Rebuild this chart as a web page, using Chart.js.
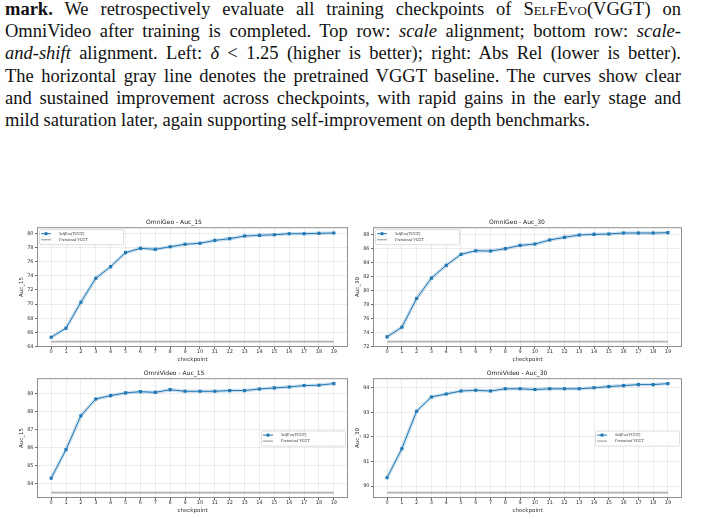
<!DOCTYPE html>
<html lang="en">
<head>
<meta charset="UTF-8">
<title>SelfEvo(VGGT) checkpoints</title>
<script src="https://cdn.jsdelivr.net/npm/chart.js"></script>
<style>
    body {
        margin: 0;
        background: #fff;
        width: 703px;
        height: 519px;
        overflow: hidden;
        position: relative;
    }
    .caption {
        position: absolute;
        left: 5px;
        top: -2px;
        width: 676px;
        font-family: 'Liberation Serif', serif;
        font-size: 18.5px;
        line-height: 22.2px;
        color: #111;
    }
    .caption div {
        text-align: justify;
        text-align-last: justify;
    }
    .caption div.last {
        text-align-last: left;
    }
    .sc { font-variant: small-caps; }
    canvas { position: absolute; }
</style>
</head>
<body>
<div class="caption">
    <div><b>mark.</b> We retrospectively evaluate all training checkpoints of <span class="sc">SelfEvo</span>(VGGT) on</div>
    <div>OmniVideo after training is completed. Top row: <i>scale</i> alignment; bottom row: <i>scale-</i></div>
    <div><i>and-shift</i> alignment. Left: <i>δ</i> &lt; 1.25 (higher is better); right: Abs Rel (lower is better).</div>
    <div>The horizontal gray line denotes the pretrained VGGT baseline. The curves show clear</div>
    <div>and sustained improvement across checkpoints, with rapid gains in the early stage and</div>
    <div class="last">mild saturation later, again supporting self-improvement on depth benchmarks.</div>
</div>

<canvas id="geo15" width="352" height="156" style="left:0px;top:210px"></canvas>
<canvas id="geo30" width="351" height="156" style="left:352px;top:210px"></canvas>
<canvas id="video15" width="352" height="159" style="left:0px;top:360px"></canvas>
<canvas id="video30" width="351" height="159" style="left:352px;top:360px"></canvas>

<script>
    // data
    const checkpoints = [0, 1, 2, 3, 4, 5, 6, 7, 8, 9, 10, 11, 12, 13, 14, 15, 16, 17, 18, 19];

    const geoAuc15 = [65.3, 66.6, 70.26, 73.65, 75.3, 77.27, 77.88, 77.74, 78.1, 78.45,
                      78.6, 79.0, 79.25, 79.62, 79.72, 79.8, 79.95, 79.95, 80.0, 80.05];
    const geoAuc30 = [73.39, 74.77, 78.88, 81.79, 83.61, 85.18, 85.71, 85.66, 86.0, 86.47,
                      86.66, 87.24, 87.62, 87.95, 88.05, 88.1, 88.24, 88.24, 88.24, 88.29];
    const videoAuc15 = [84.28, 85.88, 87.77, 88.70, 88.89, 89.04, 89.11, 89.07, 89.22, 89.13,
                        89.13, 89.13, 89.17, 89.17, 89.26, 89.32, 89.37, 89.45, 89.47, 89.56];
    const videoAuc30 = [90.34, 91.52, 93.04, 93.62, 93.74, 93.86, 93.89, 93.86, 93.95, 93.95,
                        93.92, 93.95, 93.95, 93.95, 93.99, 94.04, 94.08, 94.12, 94.12, 94.16];

    // pretrained VGGT baselines
    const baseGeo15 = 64.7;
    const baseGeo30 = 72.72;
    const baseVideo15 = 83.48;
    const baseVideo30 = 89.74;

    const ticksGeo15 = [64, 66, 68, 70, 72, 74, 76, 78, 80];
    const ticksGeo30 = [72, 74, 76, 78, 80, 82, 84, 86, 88];
    const ticksVideo15 = [84, 85, 86, 87, 88, 89];
    const ticksVideo30 = [90, 91, 92, 93, 94];

    const BLUE = '#1f77b4';
    const GRAY = '#b0b0b0';

    // frame + legend drawn inside the axes, matplotlib style
    const insideLegend = {
        id: 'insideLegend',
        afterDraw(chart, args, opts) {
            const ctx = chart.ctx;
            const a = chart.chartArea;
            ctx.save();
            ctx.strokeStyle = '#8f8f8f';
            ctx.lineWidth = 1;
            ctx.strokeRect(a.left + 0.5, a.top + 0.5, a.right - a.left - 1, a.bottom - a.top - 1);

            const w = 84, h = 15;
            let x, y;
            if (opts.pos === 'ul') {
                x = a.left + 2; y = a.top + 2;
            } else {
                x = a.right - w - 3; y = (a.top + a.bottom) / 2 - h / 2;
            }
            ctx.fillStyle = 'rgba(255,255,255,0.85)';
            ctx.strokeStyle = '#dddddd';
            ctx.beginPath();
            ctx.roundRect(x + 0.5, y + 0.5, w, h, 1.5);
            ctx.fill();
            ctx.stroke();

            const ds = chart.data.datasets;
            const rows = [ds[0], ds[2]];
            ctx.font = 'italic 4px "Liberation Serif"';
            ctx.textBaseline = 'middle';
            rows.forEach((d, i) => {
                const ry = y + 4.5 + i * 6;
                ctx.strokeStyle = d.borderColor;
                ctx.lineWidth = i === 0 ? 1 : 1.4;
                ctx.beginPath();
                ctx.moveTo(x + 2, ry);
                ctx.lineTo(x + 12, ry);
                ctx.stroke();
                if (i === 0) {
                    ctx.fillStyle = BLUE;
                    ctx.fillRect(x + 5.5, ry - 1.5, 3, 3);
                }
                ctx.fillStyle = '#333';
                ctx.fillText(d.label, x + opts.textX, ry);
            });
            ctx.restore();
        }
    };

    function makeChart(id, title, yLabel, values, base, yMin, yMax, yTicks, opts) {
        const pts = checkpoints.map((c, i) => ({x: c, y: values[i]}));
        const basePts = [{x: checkpoints[0], y: base}, {x: checkpoints[checkpoints.length - 1], y: base}];
        return new Chart(document.getElementById(id), {
            type: 'line',
            data: {
                datasets: [{
                    label: 'SelfEvo(VGGT)',
                    data: pts,
                    borderColor: BLUE,
                    backgroundColor: BLUE,
                    borderWidth: 1,
                    pointStyle: 'rect',
                    pointRadius: 2.2,
                    pointBorderWidth: 0,
                    tension: 0
                }, {
                    label: 'band',
                    data: pts,
                    borderColor: 'rgba(31,119,180,0.22)',
                    borderWidth: 3.5,
                    pointRadius: 0,
                    tension: 0
                }, {
                    label: 'Pretrained VGGT',
                    data: basePts,
                    borderColor: GRAY,
                    borderWidth: 1.8,
                    pointRadius: 0
                }]
            },
            options: {
                responsive: false,
                animation: false,
                devicePixelRatio: 1,
                layout: { padding: opts.pad },
                plugins: {
                    legend: { display: false },
                    tooltip: { enabled: false },
                    title: {
                        display: true,
                        text: title,
                        color: '#222',
                        font: { family: 'DejaVu Sans', size: 6, weight: 'normal' },
                        padding: { top: 0, bottom: 1 }
                    },
                    insideLegend: { pos: opts.legend, textX: 20 }
                },
                scales: {
                    x: {
                        type: 'linear',
                        min: -0.95,
                        max: 19.95,
                        afterBuildTicks: s => { s.ticks = checkpoints.map(v => ({value: v})); },
                        afterFit: s => { s.height = 16; },
                        ticks: {
                            autoSkip: false,
                            maxRotation: 0,
                            padding: 0,
                            color: '#333',
                            font: { family: 'DejaVu Sans', size: 5 }
                        },
                        grid: { color: 'rgba(0,0,0,0.07)', tickLength: 2, tickColor: '#666' },
                        border: { display: false },
                        title: {
                            display: true,
                            text: 'checkpoint',
                            color: '#333',
                            font: { family: 'DejaVu Sans', size: 5.5 },
                            padding: 0
                        }
                    },
                    y: {
                        min: yMin,
                        max: yMax,
                        afterBuildTicks: s => { s.ticks = yTicks.map(v => ({value: v})); },
                        afterFit: s => { s.width = opts.yWidth; },
                        ticks: {
                            padding: 1.5,
                            color: '#333',
                            font: { family: 'DejaVu Sans', size: 5 }
                        },
                        grid: { color: 'rgba(0,0,0,0.07)', tickLength: 2, tickColor: '#666' },
                        border: { display: false },
                        title: {
                            display: true,
                            text: yLabel,
                            color: '#333',
                            font: { family: 'DejaVu Sans', size: 5.5 },
                            padding: opts.yTitlePad
                        }
                    }
                }
            },
            plugins: [insideLegend]
        });
    }

    makeChart('geo15', 'OmniGeo - Auc_15', 'Auc_15', geoAuc15, baseGeo15, 63.93, 80.87, ticksGeo15,
        { pad: {left: 0, right: 4, top: 9, bottom: 3}, yWidth: 37, yTitlePad: 18.7, legend: 'ul' });
    makeChart('geo30', 'OmniGeo - Auc_30', 'Auc_30', geoAuc30, baseGeo30, 71.94, 89.07, ticksGeo30,
        { pad: {left: 0, right: 21, top: 9, bottom: 3}, yWidth: 21, yTitlePad: 2.7, legend: 'ul' });
    makeChart('video15', 'OmniVideo - Auc_15', 'Auc_15', videoAuc15, baseVideo15, 83.18, 89.86, ticksVideo15,
        { pad: {left: 0, right: 4, top: 10, bottom: 5}, yWidth: 37, yTitlePad: 18.7, legend: 'cr' });
    makeChart('video30', 'OmniVideo - Auc_30', 'Auc_30', videoAuc30, baseVideo30, 89.52, 94.38, ticksVideo30,
        { pad: {left: 0, right: 21, top: 10, bottom: 5}, yWidth: 21, yTitlePad: 2.7, legend: 'cr' });
</script>
</body>
</html>
